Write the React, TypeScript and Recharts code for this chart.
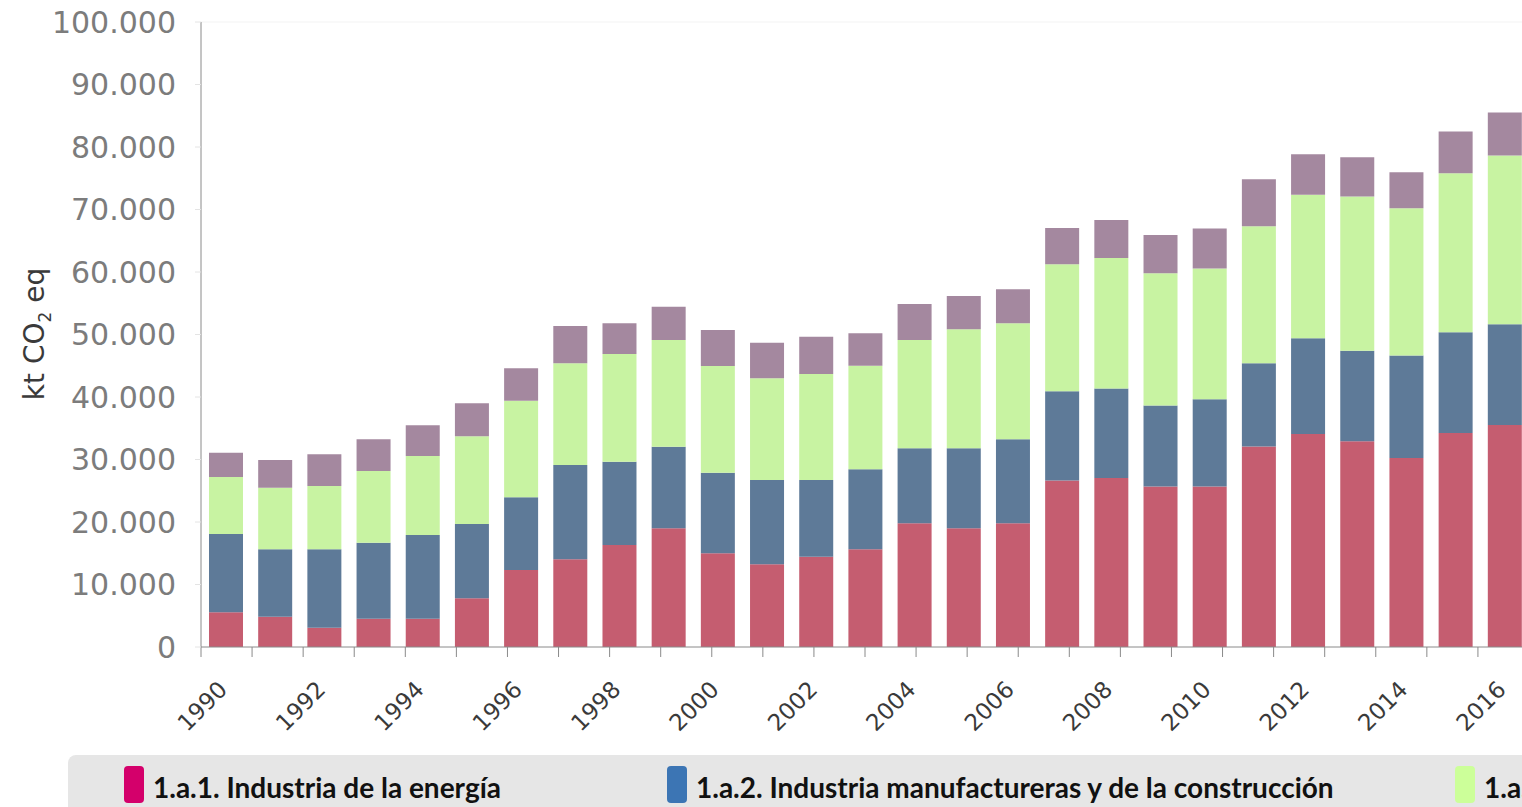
import { BarChart, Bar, XAxis, YAxis, ReferenceLine } from "recharts";

const years = [
  "1990", "1991", "1992", "1993", "1994", "1995", "1996", "1997", "1998",
  "1999", "2000", "2001", "2002", "2003", "2004", "2005", "2006", "2007",
  "2008", "2009", "2010", "2011", "2012", "2013", "2014", "2015", "2016",
];

// kt CO2 eq per sector (stacked)
const energia = [
  5550, 4850, 3100, 4530, 4530, 7790, 12320, 14030, 16320, 18990, 14990,
  13230, 14450, 15630, 19790, 18990, 19790, 26660, 27060, 25700, 25700,
  32100, 34100, 32940, 30260, 34260, 35520,
];
const manufactura = [
  12530, 10780, 12530, 12170, 13390, 11890, 11630, 15090, 13330, 13060,
  12910, 13490, 12270, 12800, 12000, 12800, 13440, 14280, 14290, 12960,
  13930, 13310, 15310, 14470, 16400, 16120, 16110,
];
const transporte = [
  9120, 9870, 10130, 11460, 12640, 14050, 15460, 16270, 17230, 17070, 17060,
  16270, 16960, 16580, 17330, 19040, 18560, 20300, 20910, 21150, 20920,
  21930, 22970, 24690, 23550, 25430, 27030,
];
const otros = [
  3900, 4420, 5070, 5070, 4910, 5260, 5180, 5970, 4910, 5330, 5760, 5700,
  5970, 5180, 5760, 5330, 5440, 5820, 6060, 6110, 6400, 7490, 6450, 6280,
  5770, 6680, 6860,
];

const yTicks = [0, 10000, 20000, 30000, 40000, 50000, 60000, 70000, 80000, 90000, 100000];

const legendItems = [
  { label: "1.a.1. Industria de la energía", color: "#d4006b", left: 124 },
  { label: "1.a.2. Industria manufactureras y de la construcción", color: "#3c75b4", left: 667 },
  { label: "1.a.3. Transporte", color: "#ccff99", left: 1455 },
];

const data = years.map((year, i) => ({
  year,
  energia: energia[i],
  manufactura: manufactura[i],
  transporte: transporte[i],
  otros: otros[i],
}));

// category boundaries for the tick marks
const boundaryTicks = [...years.map((_, i) => i), years.length];

const fmt = (v: number) => String(v).replace(/\B(?=(\d{3})+(?!\d))/g, ".");

const YearTick = ({ x, y, payload }: any) => (
  <g transform={`translate(${x + 3},${y + 35})`}>
    <text
      x={0}
      y={0}
      textAnchor="end"
      transform="rotate(-45)"
      fontFamily="DejaVu Sans"
      fontSize={23}
      fill="#3a3a3a"
    >
      {payload.value}
    </text>
  </g>
);

const NoLabel = () => <g />;

const AxisTitle = () => (
  <text
    x={0}
    y={0}
    transform="translate(44,334) rotate(-90)"
    textAnchor="middle"
    fontFamily="DejaVu Sans"
    fontSize={28}
    fill="#3a3a3a"
  >
    kt CO
    <tspan fontSize={17} dy={7}>2</tspan>
    <tspan dy={-7}> eq</tspan>
  </text>
);

export default function App() {
  return (
    <div
      style={{
        position: "fixed",
        left: 0,
        top: 0,
        width: 1522,
        height: 807,
        overflow: "hidden",
        background: "#fff",
      }}
    >
      <div style={{ position: "absolute", left: 0, top: 0 }}>
        <BarChart
          width={1530}
          height={750}
          data={data}
          margin={{ top: 22, right: 1, left: 0, bottom: 0 }}
          barSize={34}
        >
          <XAxis
            xAxisId="a"
            type="number"
            domain={[0, years.length]}
            ticks={boundaryTicks}
            interval={0}
            allowDataOverflow
            tick={<NoLabel />}
            tickSize={10}
            tickLine={{ stroke: "#8a8a8a" }}
            height={1}
            stroke="#8a8a8a"
          />
          <XAxis
            xAxisId="b"
            dataKey="year"
            interval={1}
            tickLine={false}
            axisLine={false}
            height={102}
            tick={<YearTick />}
          />
          <YAxis
            domain={[0, 100000]}
            ticks={yTicks}
            width={201}
            tickSize={6}
            tickMargin={19}
            tickFormatter={fmt}
            stroke="#8a8a8a"
            tickLine={{ stroke: "#e4e4e4" }}
            tick={{ fontFamily: "DejaVu Sans", fontSize: 30, fill: "#7c7c7c" }}
            label={{ content: <AxisTitle /> }}
          />
          <ReferenceLine xAxisId="b" y={100000} stroke="#f3f3f3" />
          <Bar xAxisId="b" dataKey="energia" stackId="s" fill="#c55d70" isAnimationActive={false} />
          <Bar xAxisId="b" dataKey="manufactura" stackId="s" fill="#5e7a98" isAnimationActive={false} />
          <Bar xAxisId="b" dataKey="transporte" stackId="s" fill="#c8f3a2" isAnimationActive={false} />
          <Bar xAxisId="b" dataKey="otros" stackId="s" fill="#a4889f" isAnimationActive={false} />
        </BarChart>
      </div>
      <div
        style={{
          position: "absolute",
          left: 68,
          top: 755,
          width: 1500,
          height: 70,
          background: "#e6e6e6",
          borderRadius: 8,
        }}
      />
      {legendItems.map((item) => (
        <div key={item.label}>
          <div
            style={{
              position: "absolute",
              left: item.left,
              top: 766,
              width: 20,
              height: 37,
              borderRadius: 4,
              background: item.color,
            }}
          />
          <div
            style={{
              position: "absolute",
              left: item.left + 29,
              top: 770,
              fontFamily: "Lato",
              fontWeight: 700,
              fontSize: 28,
              lineHeight: "34px",
              color: "#111",
              whiteSpace: "nowrap",
            }}
          >
            {item.label}
          </div>
        </div>
      ))}
    </div>
  );
}
